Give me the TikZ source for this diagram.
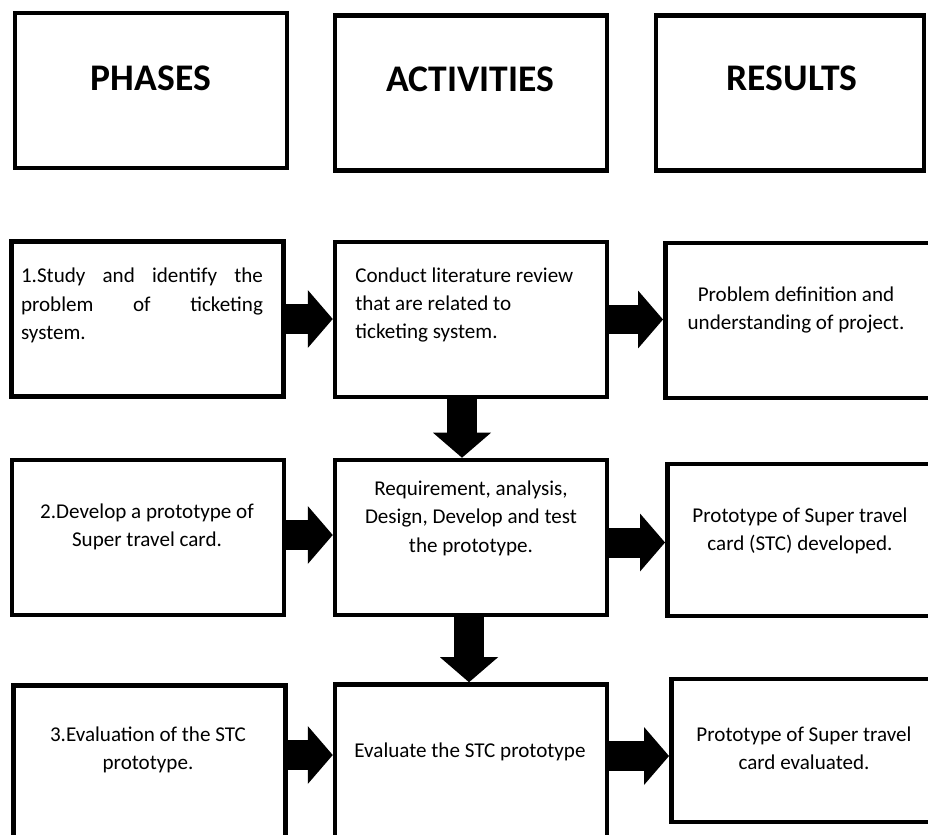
\documentclass[tikz,border=0pt]{standalone}
\usepackage{fontspec}
\setmainfont{Carlito}
\usetikzlibrary{arrows.meta}

\begin{document}
\begin{tikzpicture}[x=0.02cm, y=-0.02cm, line join=miter,
  box/.style={draw, line width=2.6pt, inner sep=0pt, minimum width=5.44cm, minimum height=3.1cm},
  cut/.style={box, anchor=west, minimum width=6.2cm},
  head/.style={font=\fontsize{21.4}{26}\selectfont\bfseries, inner sep=0pt},
  txt/.style={font=\fontsize{12}{16.2}\selectfont, inner sep=0pt, align=center},
  flow/.style={line width=0.6cm, -{Triangle[width=1.16cm, length=0.5cm, line width=0pt]}}]
\useasboundingbox (0,0) rectangle (928,834);
\clip (0,0) rectangle (928,834);
% headers
\node[box] (hp) at (151,90.5) {};
\node[box] (ha) at (471,93) {};
\node[box, minimum width=5.36cm] (hr) at (790,93) {};
\node[head] (hpt) at (151,78.5) {PHASES};
\node[head] (hat) at (470,79) {ACTIVITIES};
\node[head] (hrt) at (792,78.5) {RESULTS};
% row 1
\node[box] (p1) at (147.5,319) {};
\node[box] (a1) at (471,319.5) {};
\node[cut] (r1) at (663,320.5) {};
\node[txt, text width=4.84cm, align=justify] (p1t) at (142,305.5)
  {1.Study and identify the\linebreak problem of ticketing\linebreak system.};
\node[txt, align=left, anchor=west] (a1t) at (355,305)
  {Conduct literature review\\that are related to\\ticketing system.};
\node[txt] (r1t) at (796,310) {Problem definition and\\understanding of project.};
% row 2
\node[box] (p2) at (148,537.5) {};
\node[box] (a2) at (471,537.5) {};
\node[cut, minimum height=3.04cm] (r2) at (665,540) {};
\node[txt] (p2t) at (147,527) {2.Develop a prototype of\\Super travel card.};
\node[txt] (a2t) at (471,518) {Requirement, analysis,\\Design, Develop and test\\the prototype.};
\node[txt] (r2t) at (800,531) {Prototype of Super travel\\card (STC) developed.};
% row 3
\node[box] (p3) at (149.5,763) {};
\node[box] (a3) at (471,762) {};
\node[cut, minimum height=2.86cm] (r3) at (669,750.5) {};
\node[txt] (p3t) at (148,750) {3.Evaluation of the STC\\prototype.};
\node[txt] (a3t) at (470,752) {Evaluate the STC prototype};
\node[txt] (r3t) at (804,748) {Prototype of Super travel\\card evaluated.};
% arrows
\draw[flow] (p1.east) -- (p1.east -| a1.west);
\draw[flow] (a1.east) -- (a1.east -| r1.west);
\draw[flow] ([xshift=-0.18cm]a1.south) -- ([xshift=-0.18cm]a1.south |- a2.north);
\draw[flow] ([yshift=0.05cm]p2.east) -- ([yshift=0.05cm]p2.east -| a2.west);
\draw[flow] ([yshift=-0.1cm]a2.east) -- ([yshift=-0.1cm]a2.east -| r2.west);
\draw[flow] ([xshift=-0.04cm]a2.south) -- ([xshift=-0.04cm]a2.south |- a3.north);
\draw[flow] ([yshift=0.16cm]p3.east) -- ([yshift=0.16cm]p3.east -| a3.west);
\draw[flow] ([yshift=0.12cm]a3.east) -- ([yshift=0.12cm]a3.east -| r3.west);
\end{tikzpicture}
\end{document}
